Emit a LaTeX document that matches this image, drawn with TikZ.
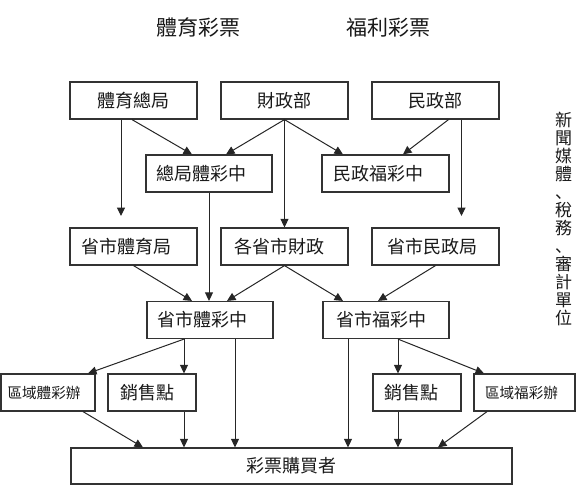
\documentclass[tikz,border=0pt]{standalone}
\usepackage{fontspec}
\newfontfamily\cjk{Noto Sans CJK TC}
\newfontfamily\cjksc{Noto Sans CJK SC}
\usetikzlibrary{arrows.meta}
\newcommand{\lsh}[2]{\hspace*{-#1}#2}
\begin{document}
\begin{tikzpicture}[x=1pt,y=-1pt,
  box/.style={draw=black!80, line width=1.2pt, fill=white, inner sep=0pt,
    minimum width=127pt, minimum height=37pt,
    text height=15.8pt, text depth=2.2pt, text=black!90,
    font=\cjk\fontsize{18}{20}\selectfont},
  smallbox/.style={box, text height=12.8pt, text depth=1.8pt,
    font=\cjk\fontsize{14.6}{16}\selectfont},
  title/.style={inner sep=0pt, text height=18.5pt, text depth=2.5pt, text=black!90,
    font=\cjk\fontsize{21}{23}\selectfont},
  vchar/.style={inner sep=0pt, text height=15pt, text depth=2pt, text=black!90,
    font=\cjk\fontsize{17}{18}\selectfont},
  arr/.style={line width=1pt, draw=black!85, -{Triangle[length=8.5pt,width=8pt]}}]
\useasboundingbox (0,0) rectangle (581,492);

% titles
\node[title] (t1) at (198.5,27.5) {體育彩票};
\node[title] (t2) at (388,27.5) {福利彩票};

% row 1
\node[box] (A1) at (133.5,100.5) {體育總局};
\node[box] (A2) at (284.5,100.5) {財政部};
\node[box] (A3) at (435.5,100.5) {民政部};
% row 2
\node[box, minimum width=126pt] (B1) at (209,173.5) {\lsh{15pt}{總局體彩中}};
\node[box] (B2) at (385.5,173.5) {\lsh{15pt}{民政福彩中}};
% row 3
\node[box] (C1) at (133.5,246.5) {\lsh{14pt}{省市體育局}};
\node[box] (C2) at (284.5,246.5) {\lsh{11pt}{各省市財政}};
\node[box] (C3) at (435.5,246.5) {\lsh{7pt}{省市民政局}};
% row 4
\node[box, minimum width=126pt] (D1) at (210,320) {\lsh{15pt}{省市體彩中}};
\node[box, minimum width=126pt] (D2) at (386,320) {\lsh{10pt}{省市福彩中}};
% row 5
\node[smallbox, minimum width=94pt] (E1) at (48,392.5) {\lsh{8pt}{區域體彩辦}};
\node[box, minimum width=88pt] (E2) at (152,392.5) {\lsh{10pt}{銷售點}};
\node[box, minimum width=88pt] (E3) at (417,392.5) {\lsh{12pt}{銷售點}};
\node[smallbox, minimum width=101pt] (E4) at (524.5,392.5) {\lsh{6pt}{區域福彩辦}};
% row 6
\node[box, minimum width=441pt, minimum height=36pt] (F) at (291.5,466) {彩票購買者};

% vertical text
\foreach \ch [count=\i from 0] in {新,聞,媒,體,,稅,務,,審,計,單,位}{
  \node[vchar] (v\i) at (563.5,120+18*\i) {\ch};
}
\node[vchar, font=\cjksc\fontsize{17}{18}\selectfont] (c1) at (563.5,192) {、};
\node[vchar, font=\cjksc\fontsize{17}{18}\selectfont] (c2) at (563.5,246) {、};

% free arrow ends
\coordinate (a1e) at (121,216);
\coordinate (a3e) at (461.5,216);

% row 1 -> row 2/3
\draw[arr] ([xshift=-12.5pt]A1.south) -- (a1e);
\draw[arr] ([xshift=-1.5pt]A1.south) -- ([xshift=-17pt]B1.north);
\draw[arr] (A2.south) -- ([xshift=17pt]B1.north);
\draw[arr] (A2.south) -- ([xshift=-42.5pt]B2.north);
\draw[arr] ([xshift=13pt]A3.south) -- ([xshift=17.5pt]B2.north);
\draw[arr] (A2.south) -- (C2.north);
\draw[arr] ([xshift=26pt]A3.south) -- (a3e);
% row 2 -> row 4
\draw[arr] (B1.south) -- (B1.south |- D1.north);
% row 3 -> row 4
\draw[arr] (C1.south) -- ([xshift=-18pt]D1.north);
\draw[arr] (C2.south) -- ([xshift=17pt]D1.north);
\draw[arr] (C2.south) -- ([xshift=-43pt]D2.north);
\draw[arr] (C3.south) -- ([xshift=-8pt]D2.north);
% row 4 -> row 5/6
\draw[arr] ([xshift=-26pt]D1.south) -- ([xshift=40pt]E1.north);
\draw[arr] ([xshift=-26pt]D1.south) -- ([xshift=-26pt]D1.south |- E2.north);
\draw[arr] ([xshift=25pt]D1.south) -- ([xshift=25pt]D1.south |- F.north);
\draw[arr] ([xshift=-38pt]D2.south) -- ([xshift=-38pt]D2.south |- F.north);
\draw[arr] ([xshift=12pt]D2.south) -- ([xshift=12pt]D2.south |- E3.north);
\draw[arr] ([xshift=12pt]D2.south) -- ([xshift=-40.5pt]E4.north);
% row 5 -> row 6
\draw[arr] ([xshift=35pt]E1.south) -- ([xshift=-148.5pt]F.north);
\draw[arr] ([xshift=32pt]E2.south) -- ([xshift=32pt]E2.south |- F.north);
\draw[arr] ([xshift=-19pt]E3.south) -- ([xshift=-19pt]E3.south |- F.north);
\draw[arr] ([xshift=-37.5pt]E4.south) -- ([xshift=146.5pt]F.north);
\end{tikzpicture}
\end{document}
